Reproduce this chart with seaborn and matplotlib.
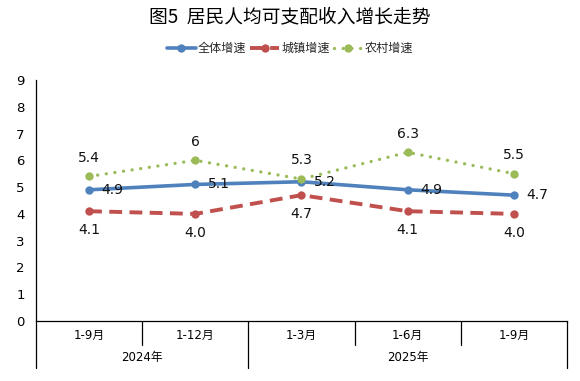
import numpy as np
import pandas as pd
import matplotlib
matplotlib.use("Agg")
import matplotlib.pyplot as plt
import matplotlib.transforms as mtransforms
import seaborn as sns

# data
periods = ["1-9月", "1-12月", "1-3月", "1-6月", "1-9月"]
years = ["2024年", "2025年"]
year_sizes = [2, 3]
series_names = ["全体增速", "城镇增速", "农村增速"]
all_growth = [4.9, 5.1, 5.2, 4.9, 4.7]
urban_growth = [4.1, 4.0, 4.7, 4.1, 4.0]
rural_growth = [5.4, 6.0, 5.3, 6.3, 5.5]

sns.set_theme(style="white")
plt.rcParams['font.family'] = ['DejaVu Sans', 'Noto Sans CJK SC']
plt.rcParams['axes.unicode_minus'] = False

x = np.arange(len(periods))
df = pd.DataFrame({
    "x": np.tile(x, 3),
    "value": all_growth + urban_growth + rural_growth,
    "series": np.repeat(series_names, len(periods)),
})

colors = {"全体增速": "#4F81BD", "城镇增速": "#C0504D", "农村增速": "#9BBB59"}

fig = plt.figure(figsize=(5.8, 3.81), dpi=100)
ax = fig.add_axes([0.062, 0.1575, 0.9155, 0.6325])

for name in series_names:
    sub = df[df["series"] == name]
    sns.lineplot(data=sub, x="x", y="value", ax=ax, color=colors[name],
                 linewidth=2.6 if name != "城镇增速" else 2.8,
                 marker="o", markersize=6, markeredgewidth=0,
                 dashes=False, label=name, legend=False)
    line = ax.lines[-1]
    if name == "城镇增速":
        line.set_dashes((3.3, 1.9))
        line.set_dash_capstyle("butt")
    elif name == "农村增速":
        line.set_dashes((0.01, 2.6))
        line.set_dash_capstyle("round")
        line.set_linewidth(2.4)

# data labels
for xi, v in zip(x, all_growth):
    ax.annotate(f"{v:.1f}", (xi, v), xytext=(9, 0), textcoords="offset points",
                ha="left", va="center", fontsize=10, color="#111111")
for xi, v in zip(x, urban_growth):
    ax.annotate(f"{v:.1f}", (xi, v), xytext=(0, -13.5), textcoords="offset points",
                ha="center", va="center", fontsize=10, color="#111111")
for xi, v in zip(x, rural_growth):
    ax.annotate(f"{v:g}", (xi, v), xytext=(0, 13.5), textcoords="offset points",
                ha="center", va="center", fontsize=10, color="#111111")

ax.set_xlim(-0.5, len(periods) - 0.5)
ax.set_ylim(0, 9)
ax.set_yticks(range(0, 10))
ax.set_xticks(x)
ax.set_xticklabels([])
ax.set_xlabel("")
ax.set_ylabel("")
ax.tick_params(axis="x", direction="in", length=3, width=0.8, colors="black")
ax.tick_params(axis="y", direction="out", length=4, width=0.8, labelsize=9.5,
               colors="black", pad=4)
for side in ["top", "right"]:
    ax.spines[side].set_visible(False)
for side in ["left", "bottom"]:
    ax.spines[side].set_color("black")
    ax.spines[side].set_linewidth(0.9)

# two-level category axis below the plot
trans = mtransforms.blended_transform_factory(ax.transData, ax.transAxes)
for xi, lab in zip(x, periods):
    ax.text(xi, -0.058, lab, transform=trans, ha="center", va="center",
            fontsize=8.5, color="black")

bounds = np.cumsum([0] + year_sizes) - 0.5
for i, yr in enumerate(years):
    ax.text((bounds[i] + bounds[i + 1]) / 2, -0.152, yr, transform=trans,
            ha="center", va="center", fontsize=8.5, color="black")
for b in bounds:
    ax.plot([b, b], [0, -0.195], transform=trans, color="black", lw=0.9, clip_on=False)
for b in np.arange(-0.5, len(periods) - 0.5 + 1):
    if b not in bounds:
        ax.plot([b, b], [0, -0.1], transform=trans, color="black", lw=0.9, clip_on=False)

fig.text(0.5, 0.955, "图5  居民人均可支配收入增长走势", ha="center", va="center",
         fontsize=13.5, family=['Noto Sans CJK SC', 'DejaVu Sans'], color="black")

handles, labels = ax.get_legend_handles_labels()
fig.legend(handles, labels, loc="center", bbox_to_anchor=(0.5, 0.873), ncol=3,
           frameon=False, handlelength=2.4, handletextpad=0.2,
           columnspacing=0.3, prop={'family': ['Noto Sans CJK SC'], 'size': 8.7})

fig.savefig("out.png", dpi=100)
